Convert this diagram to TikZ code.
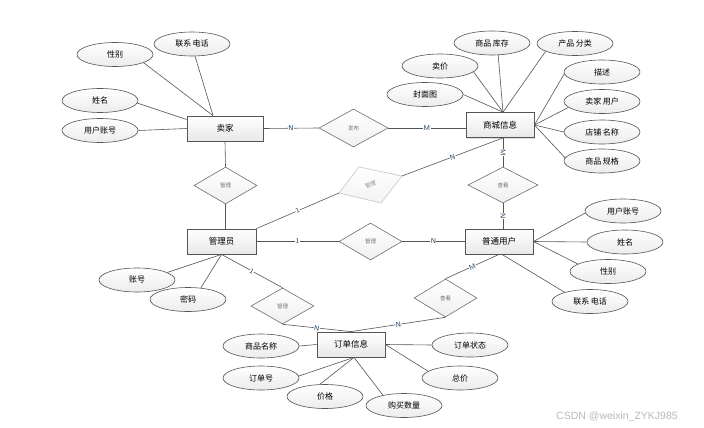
\documentclass[tikz,border=0pt]{standalone}
\usepackage{fontspec}
\setmainfont{Liberation Sans}
\newfontfamily\cjk{Noto Sans CJK SC}
\usetikzlibrary{shapes.geometric,shadows}
\definecolor{edgec}{HTML}{555555}
\definecolor{lblc}{HTML}{1A3D5C}
\newcommand{\gp}{\hspace{1.5pt}}
\begin{document}
\begin{tikzpicture}[x=1pt,y=-1pt,
  ent/.style={draw=edgec, line width=0.8pt, top color=white, bottom color=gray!18,
    minimum height=25pt, inner sep=0pt, font=\cjk\fontsize{8.5}{9}\selectfont,
    drop shadow={shadow xshift=1pt,shadow yshift=-1pt,opacity=0.25,fill=gray}},
  att/.style={ellipse, draw=edgec, line width=0.6pt, top color=white, bottom color=gray!15,
    minimum width=76pt, minimum height=24pt, inner sep=0pt, font=\cjk\fontsize{8}{9}\selectfont},
  rel/.style={diamond, draw=edgec!85, line width=0.6pt, top color=white, bottom color=gray!12,
    minimum width=63pt, minimum height=37pt, inner sep=0pt, font=\cjk\fontsize{5.5}{6}\selectfont, text=black!55},
  con/.style={draw=edgec, line width=0.6pt},
  card/.style={fill=white, inner sep=0.4pt, font=\sffamily\fontsize{7}{7}\selectfont, text=lblc, sloped},
]
\fill[white] (0,0) rectangle (704,428);
\useasboundingbox (0,0) rectangle (704,428);

% entities
\node[ent, minimum width=76pt] (seller) at (225,128.5) {卖家};
\node[ent, minimum width=68pt] (goods) at (500,125) {商城信息};
\node[ent, minimum width=69pt] (admin) at (221.5,241.5) {管理员};
\node[ent, minimum width=68pt] (user) at (499,241.5) {普通用户};
\node[ent, minimum width=68pt] (order) at (351,344.5) {订单信息};

% relations
\node[rel, minimum width=69pt, minimum height=38pt] (pub) at (353.5,128) {发布};
\node[rel] (mg1) at (225.5,185.5) {管理};
\node[rel] (mg2) at (370.5,241.5) {管理};
\node[rel, minimum width=70pt, minimum height=36pt] (ck1) at (503,185) {查看};
\node[rel, minimum height=36pt] (mg3) at (282.5,306) {管理};
\node[rel, minimum height=38pt] (ck2) at (445.5,298) {查看};

% tilted relation
\coordinate (fvL) at (339,193);
\coordinate (fvT) at (359,167);
\coordinate (fvR) at (402,176);
\coordinate (fvB) at (381,203);
\draw[draw=gray!45, line width=0.6pt, top color=white, bottom color=gray!10] (fvL) -- (fvT) -- (fvR) -- (fvB) -- cycle;
\node[rotate=20, font=\cjk\fontsize{5.5}{6}\selectfont, text=black!45] (fav) at (370.5,185) {管理};

% seller attributes
\node[att] (s1) at (115,54.5) {性别};
\node[att] (s2) at (192,44) {联系\gp 电话};
\node[att] (s3) at (100,100.5) {姓名};
\node[att] (s4) at (100,130.5) {用户账号};
\draw[con] (s1.-16) -- ([xshift=-12pt]seller.north);
\draw[con] (s2.-76) -- ([xshift=-12pt]seller.north);
\draw[con] (s3.-4) -- ([yshift=9pt]seller.west);
\draw[con] (s4.east) -- (seller.west);

% goods attributes
\node[att] (g1) at (492,43) {商品\gp 库存};
\node[att] (g2) at (575,43.5) {产品\gp 分类};
\node[att] (g3) at (440,66) {卖价};
\node[att] (g4) at (602,72) {描述};
\node[att] (g5) at (425,94.5) {封面图};
\node[att] (g6) at (602,101.5) {卖家\gp 用户};
\node[att] (g7) at (602,132) {店铺\gp 名称};
\node[att] (g8) at (602,161) {商品\gp 规格};
\draw[con] (g1.-63) -- ([xshift=3pt]goods.north);
\draw[con] (g2.195) -- ([xshift=3pt]goods.north);
\draw[con] (g3.-10) -- ([xshift=3pt]goods.north);
\draw[con] (g5.east) -- ([xshift=3pt]goods.north);
\draw[con] (g4.183) -- (goods.east);
\draw[con] (g6.190) -- (goods.east);
\draw[con] (g7.west) -- (goods.east);
\draw[con] (g8.175) -- (goods.east);

% user attributes
\node[att] (u1) at (623,211) {用户账号};
\node[att] (u2) at (625,242) {姓名};
\node[att] (u3) at (608,271.5) {性别};
\node[att] (u4) at (590,301.5) {联系\gp 电话};
\draw[con] (u1.183) -- (user.east);
\draw[con] (u2.west) -- (user.east);
\draw[con] (u3.166) -- (user.east);
\draw[con] (u4.160) -- ([xshift=3pt]user.south);

% admin attributes
\node[att] (a1) at (137,280) {账号};
\node[att] (a2) at (188,299.5) {密码};
\draw[con] (a1.14) -- (admin.south);
\draw[con] (a2.42) -- (admin.south);

% order attributes
\node[att] (o1) at (261,346) {商品名称};
\node[att] (o2) at (261,378) {订单号};
\node[att] (o3) at (325,396.5) {价格};
\node[att] (o4) at (404,405.5) {购买数量};
\node[att] (o5) at (470,345) {订单状态};
\node[att] (o6) at (460,378) {总价};
\draw[con] (o1.east) -- (order.west);
\draw[con] (o2.3) -- ([xshift=3pt]order.south);
\draw[con] (o3.113) -- ([xshift=3pt]order.south);
\draw[con] (o4.154) -- ([xshift=3pt]order.south);
\draw[con] (o5.west) -- (order.east);
\draw[con] (o6.168) -- (order.east);

% relationship connectors
\draw[con] (seller.east) -- node[card]{N} (pub.west);
\draw[con] (pub.east) -- node[card]{M} (pub.east -| goods.west);
\draw[con] (seller.south) -- (mg1.north);
\draw[con] (mg1.south) -- (mg1.south |- admin.north);
\draw[con] (admin.north east) -- node[card]{1} (fvL);
\draw[con] (fvR) -- node[card]{N} (ck1.north |- goods.south);
\draw[con] (ck1.north |- goods.south) -- node[card]{M} (ck1.north);
\draw[con] (ck1.south) -- node[card]{N} (ck1.south |- user.north);
\draw[con] (admin.east) -- node[card]{1} (mg2.west);
\draw[con] (mg2.east) -- node[card]{N} (user.west);
\draw[con] (admin.south) -- node[card]{1} (mg3.north);
\draw[con] (mg3.south) -- node[card]{N} (order.north);
\draw[con] (ck2.south) -- node[card]{N} (order.north);
\draw[con] (user.south) -- node[card]{M} (ck2.north);

% watermark
\node[font=\fontsize{10.5}{12}\selectfont, text=gray!55] (wm) at (617,417) {CSDN @weixin\_ZYKJ985};
\end{tikzpicture}
\end{document}
